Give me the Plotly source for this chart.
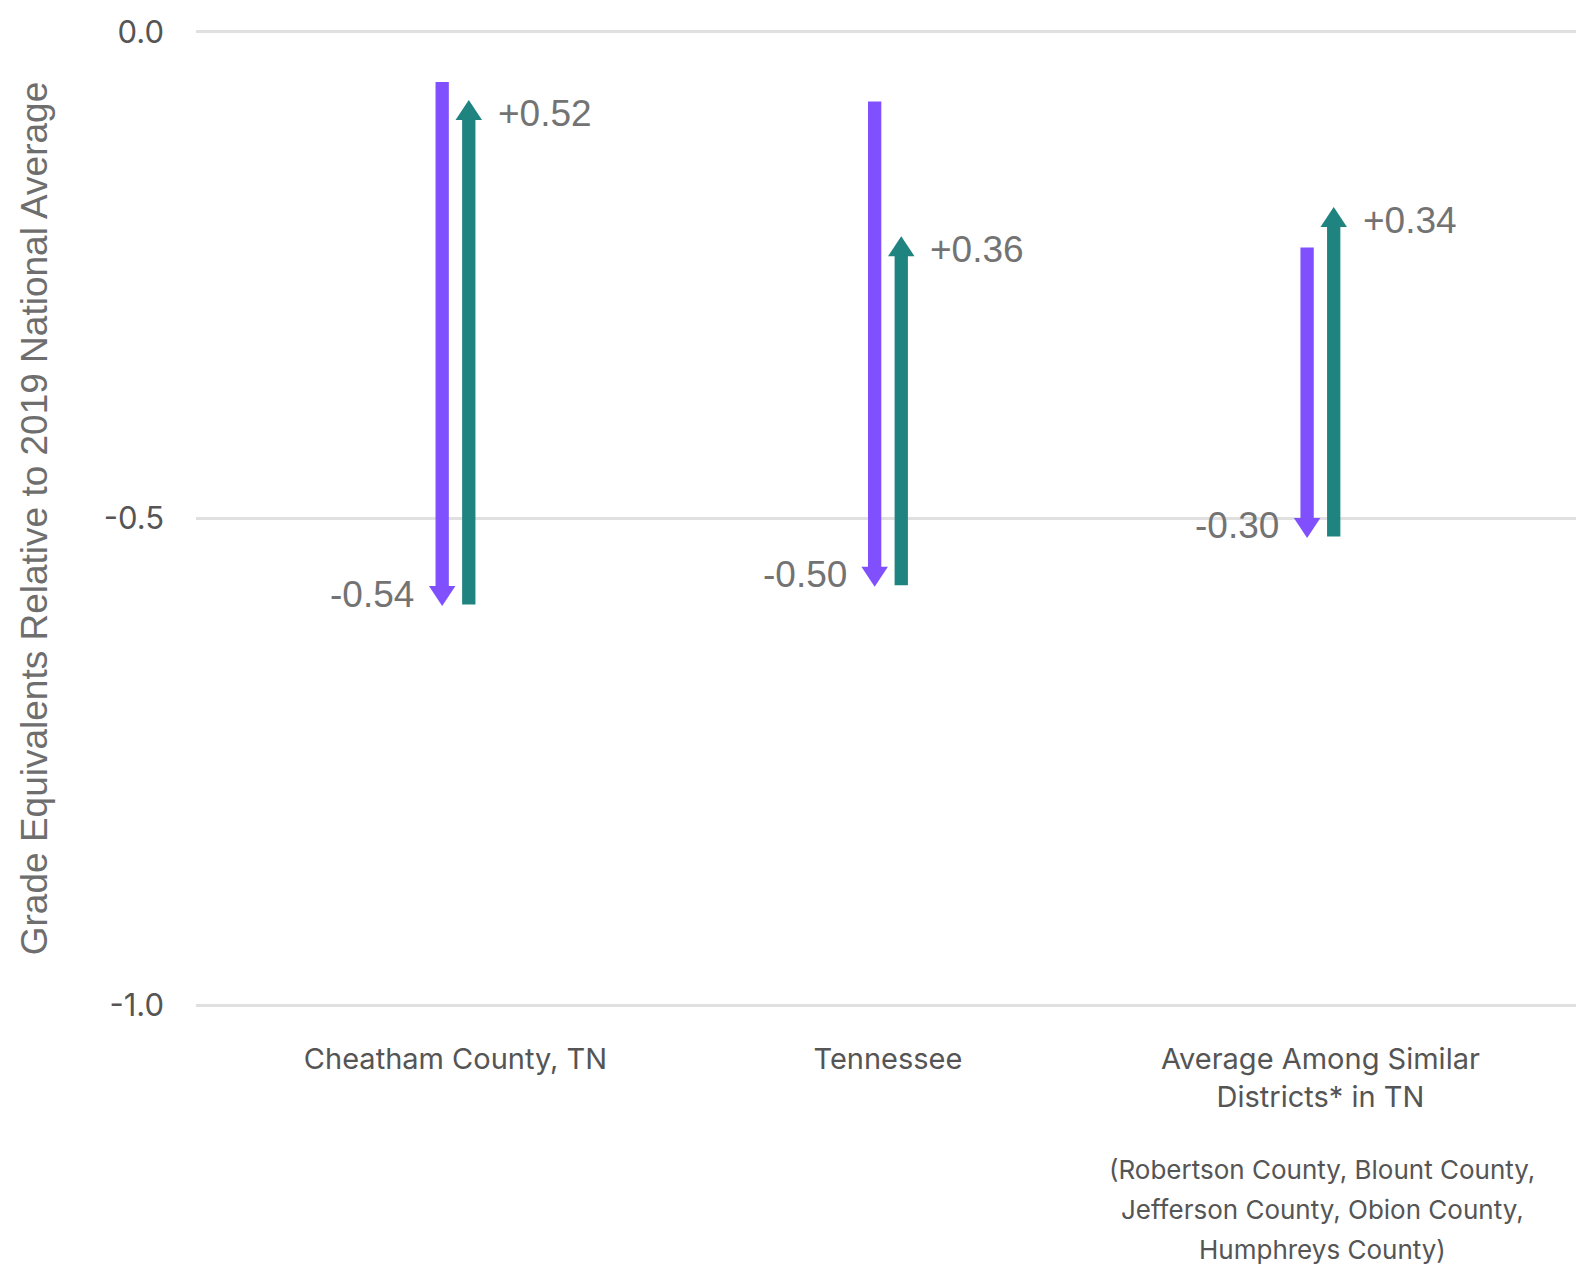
import plotly.graph_objects as go

categories = ["Cheatham County, TN", "Tennessee", "Average Among Similar<br>Districts* in TN"]
start_2019 = [-0.05, -0.07, -0.22]
decline = [-0.54, -0.50, -0.30]
recovery = [0.52, 0.36, 0.34]
y_ticks = [0.0, -0.5, -1.0]
y_tick_text = ["0.0", "-0.5", "-1.0"]
footnote_lines = ["(Robertson County, Blount County,", "Jefferson County, Obion County,", "Humphreys County)"]
y_title = "Grade Equivalents Relative to 2019 National Average"

PURPLE = "#8050ff"
TEAL = "#1f8380"
LABEL = "#737373"
TICK = "#555555"
SHAFT_W = 13.3    # px
GAP = 13.3        # px offset of each arrow from category center
HEAD_W = 26.5     # px
HEAD_L = 20       # px

low = [s + d for s, d in zip(start_2019, decline)]
high = [l + r for l, r in zip(low, recovery)]
xpos = list(range(len(categories)))

fig = go.Figure()
fig.add_trace(go.Scatter(x=xpos, y=low, mode="markers", marker=dict(opacity=0),
                         hoverinfo="skip", showlegend=False))

ann = []
shapes = []
for i, x in enumerate(xpos):
    # shafts (arrow line stopped short of the tip by the head length)
    ann.append(dict(x=x, y=low[i], ax=x, ay=start_2019[i], xref="x", yref="y",
                    axref="x", ayref="y", showarrow=True, arrowhead=0, standoff=HEAD_L - 1,
                    arrowwidth=SHAFT_W, arrowcolor=PURPLE, text="", xshift=-GAP))
    ann.append(dict(x=x, y=high[i], ax=x, ay=low[i], xref="x", yref="y",
                    axref="x", ayref="y", showarrow=True, arrowhead=0, standoff=HEAD_L - 1,
                    arrowwidth=SHAFT_W, arrowcolor=TEAL, text="", xshift=GAP))
    # heads
    shapes.append(dict(type="path", xref="x", yref="y", xsizemode="pixel", ysizemode="pixel",
                       xanchor=x, yanchor=low[i],
                       path=f"M{-GAP - HEAD_W / 2},{HEAD_L} L{-GAP + HEAD_W / 2},{HEAD_L} L{-GAP},0 Z",
                       fillcolor=PURPLE, line=dict(width=0)))
    shapes.append(dict(type="path", xref="x", yref="y", xsizemode="pixel", ysizemode="pixel",
                       xanchor=x, yanchor=high[i],
                       path=f"M{GAP - HEAD_W / 2},{-HEAD_L} L{GAP + HEAD_W / 2},{-HEAD_L} L{GAP},0 Z",
                       fillcolor=TEAL, line=dict(width=0)))
    # value labels
    ann.append(dict(x=x, y=low[i], xref="x", yref="y", showarrow=False,
                    text=f"{decline[i]:+.2f}", xanchor="right", yanchor="middle",
                    xshift=-GAP - 26, yshift=12,
                    font=dict(family="Liberation Sans, Arial", size=37, color=LABEL)))
    ann.append(dict(x=x, y=high[i], xref="x", yref="y", showarrow=False,
                    text=f"{recovery[i]:+.2f}", xanchor="left", yanchor="middle",
                    xshift=GAP + 27, yshift=-13,
                    font=dict(family="Liberation Sans, Arial", size=37, color=LABEL)))

for k, line in enumerate(footnote_lines):
    ann.append(dict(x=xpos[2], y=y_ticks[-1], xref="x", yref="y", showarrow=False, text=line,
                    xanchor="center", yanchor="middle", yshift=-164 - 40 * k, xshift=2,
                    font=dict(family="Inter", size=26, color=TICK)))

fig.update_layout(
    width=1576, height=1270,
    margin=dict(l=196, r=0, t=28, b=261),
    paper_bgcolor="white", plot_bgcolor="white",
    showlegend=False,
    annotations=ann,
    shapes=shapes,
    font=dict(family="Inter", color=TICK),
    xaxis=dict(range=[-0.6, 2.591], tickvals=xpos, ticktext=categories, showgrid=False,
               zeroline=False, showline=False, ticks="", ticklabelstandoff=30,
               tickfont=dict(size=29, color=TICK)),
    yaxis=dict(range=[-1.004, 0.004], tickvals=y_ticks, ticktext=y_tick_text, showgrid=True,
               gridcolor="#e0e0e0", gridwidth=2.5, zeroline=False, showline=False, ticks="",
               ticklabelstandoff=31, tickfont=dict(size=31, color=TICK),
               title=dict(text=y_title,
                          font=dict(family="Liberation Sans, Arial", size=37, color="#6e6e6e"),
                          standoff=44)),
)

fig.write_html(
    "out.html",
    config={"displayModeBar": False},
    post_script=("document.documentElement.style.margin='0px';"
                 "document.body.style.margin='0px';"
                 "document.documentElement.style.overflow='hidden';"
                 "document.body.style.overflow='hidden';"),
)
